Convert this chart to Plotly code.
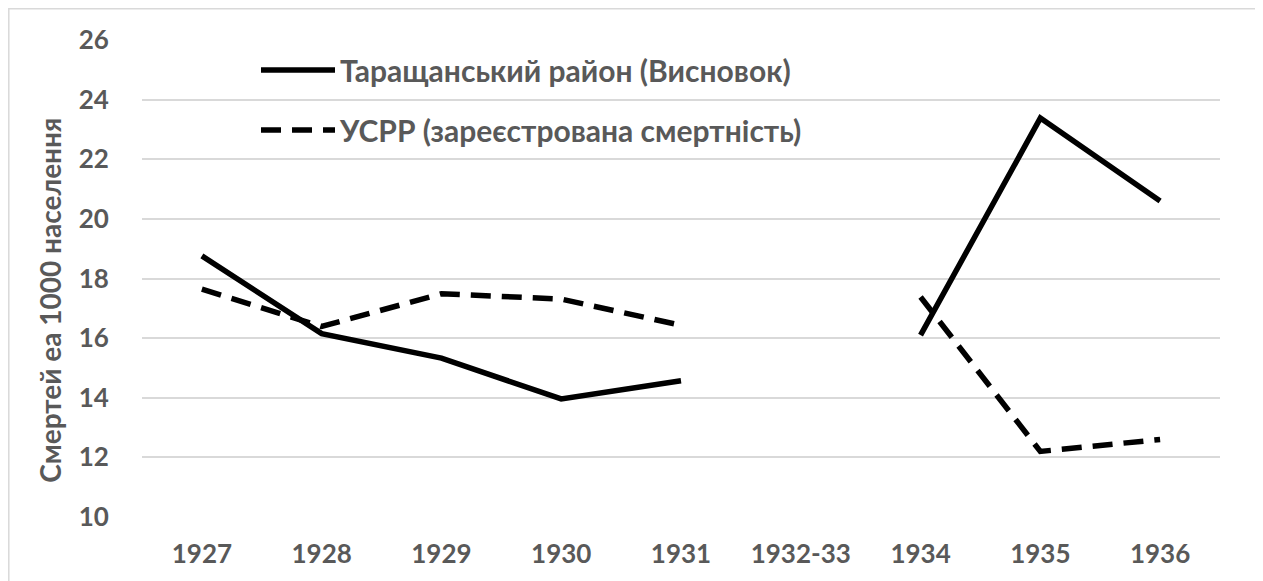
import plotly.graph_objects as go

categories = ["1927", "1928", "1929", "1930", "1931", "1932-33", "1934", "1935", "1936"]
tarashcha = [18.76, 16.15, 15.33, 13.96, 14.57, None, 16.1, 23.38, 20.6]
ussr = [17.64, 16.39, 17.49, 17.31, 16.43, None, 17.38, 12.2, 12.6]
y_ticks = [10, 12, 14, 16, 18, 20, 22, 24, 26]

FONT = "Lato"
GRAY = "#595959"
OFF = 8  # default page body margin

fig = go.Figure()
fig.add_trace(go.Scatter(
    x=categories, y=tarashcha, mode="lines", name="Таращанський район (Висновок)",
    line=dict(color="black", width=5.5), connectgaps=False, legendgroup="a"))
fig.add_trace(go.Scatter(
    x=categories, y=ussr, mode="lines", name="УСРР (зареєстрована смертність)",
    line=dict(color="black", width=5.5, dash="20px,11px"), connectgaps=False, legendgroup="b"))

W, H = 1263 - OFF, 581 - OFF
L, R = 142 - OFF, 1220 - OFF
T, B = 40 - OFF, 517.3 - OFF
pw, ph = R - L, B - T

def px_x(p):
    return (p - OFF - L) / pw

def px_y(p):
    return (B - (p - OFF)) / ph

fig.update_layout(
    width=W, height=H,
    margin=dict(l=L, r=W - R, t=T, b=H - B),
    paper_bgcolor="white", plot_bgcolor="white",
    font=dict(family=FONT, color=GRAY, size=26),
    showlegend=True,
    legend=dict(
        x=px_x(256), y=px_y(44), xanchor="left", yanchor="top",
        font=dict(family=FONT, size=30, color=GRAY, weight="bold"),
        bgcolor="rgba(0,0,0,0)", tracegroupgap=18, traceorder="grouped",
        itemwidth=74),
    xaxis=dict(
        type="category", categoryorder="array", categoryarray=categories,
        range=[-0.5, len(categories) - 0.5], showgrid=False, zeroline=False,
        showline=False, ticks="outside", ticklen=14, tickcolor="rgba(0,0,0,0)",
        tickfont=dict(family=FONT, size=26, color=GRAY, weight="bold")),
    yaxis=dict(
        range=[10, 26], tickvals=y_ticks, showgrid=True, gridcolor="#d9d9d9", gridwidth=1.5,
        zeroline=False, showline=False, ticks="outside", ticklen=27,
        tickcolor="rgba(0,0,0,0)",
        tickfont=dict(family=FONT, size=26, color=GRAY, weight="bold")),
    annotations=[dict(text="Смертей еа 1000 населення", textangle=-90,
                      xref="paper", yref="paper", x=px_x(50), y=px_y(301),
                      xanchor="center", yanchor="middle", showarrow=False,
                      font=dict(family=FONT, size=28, color=GRAY, weight="bold"))],
    shapes=[dict(type="rect", xref="paper", yref="paper",
                 x0=px_x(8.8), x1=px_x(1262), y0=px_y(620), y1=px_y(8.8),
                 line=dict(color="#d9d9d9", width=1.5), layer="below")],
)

fig.write_html("out.html")
